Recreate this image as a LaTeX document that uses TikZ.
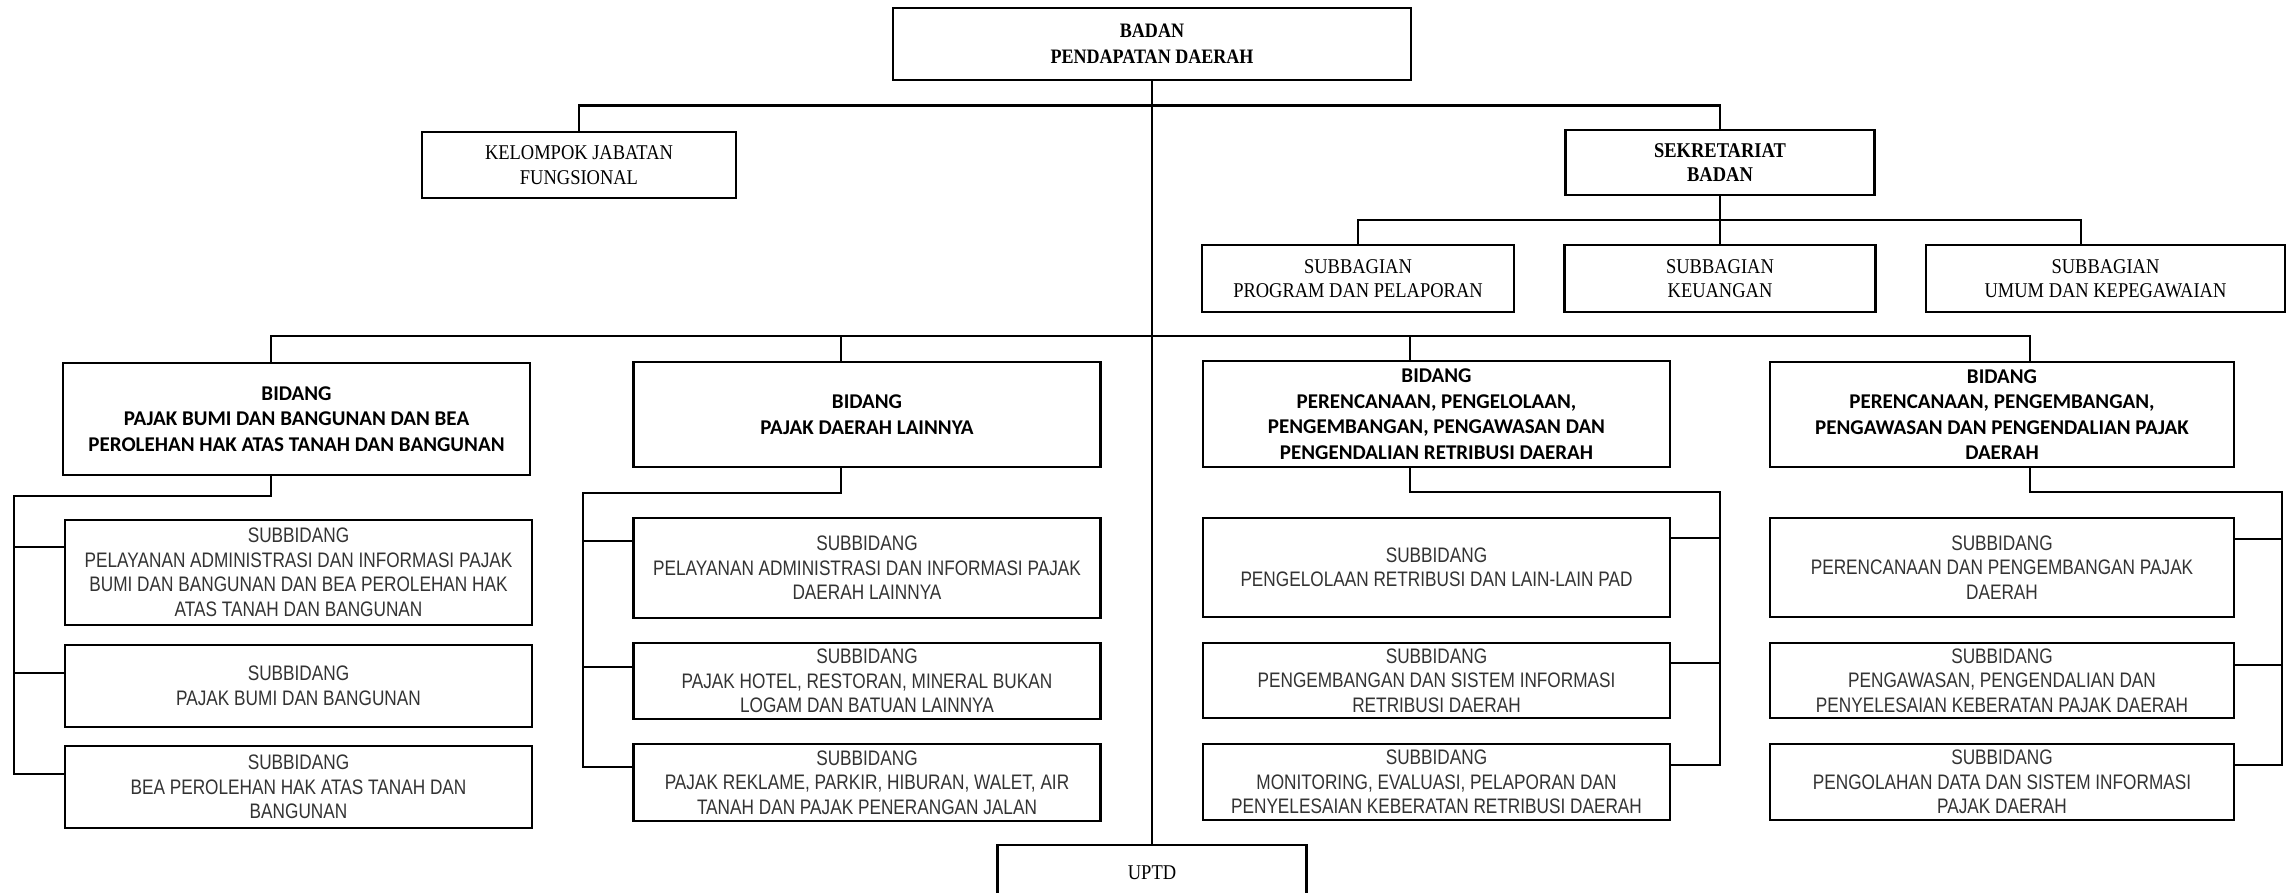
\documentclass[tikz,border=0pt]{standalone}
\usepackage{fontspec}
\setmainfont{Liberation Serif}[FakeStretch=0.88]
\newfontfamily\bidfont{Carlito}
\newfontfamily\subfont{Liberation Sans}[FakeStretch=0.82]
\begin{document}
\begin{tikzpicture}[x=1pt,y=-1pt,
  ln/.style={line width=2.5pt, black},
  serifbox/.style={draw, ln, fill=white, inner sep=0pt, align=center, font=\fontsize{21}{24.5}\selectfont},
  bidbox/.style={draw, ln, fill=white, inner sep=0pt, align=center, font=\bidfont\bfseries\fontsize{21}{25.5}\selectfont},
  subbox/.style={draw, ln, fill=white, inner sep=0pt, align=center, text=black!80, font=\subfont\fontsize{21}{24.5}\selectfont}]
\fill[white] (0,0) rectangle (2287,893);
\useasboundingbox (0,0) rectangle (2287,893);

% top level
\node[serifbox, font=\fontsize{20.5}{25.5}\selectfont\bfseries, minimum width=518pt, minimum height=72pt] (badan) at (1152,44) {BADAN\\PENDAPATAN DAERAH};
\node[serifbox, minimum width=314pt, minimum height=66pt] (kjf) at (579,165) {KELOMPOK JABATAN\\FUNGSIONAL};
\node[serifbox, font=\fontsize{21}{24}\selectfont\bfseries, minimum width=309pt, minimum height=65pt] (sekr) at (1720,162.5) {SEKRETARIAT\\BADAN};
\node[serifbox, minimum width=312pt, minimum height=67pt] (sb1) at (1358,278.5) {SUBBAGIAN\\PROGRAM DAN PELAPORAN};
\node[serifbox, minimum width=311pt, minimum height=67pt] (sb2) at (1720,278.5) {SUBBAGIAN\\KEUANGAN};
\node[serifbox, minimum width=359pt, minimum height=67pt] (sb3) at (2105.5,278.5) {SUBBAGIAN\\UMUM DAN KEPEGAWAIAN};
\node[serifbox, minimum width=309pt, minimum height=56pt] (uptd) at (1152,873) {UPTD};

% bidang
\node[bidbox, minimum width=467pt, minimum height=112pt] (b1) at (296.5,419) {BIDANG\\PAJAK BUMI DAN BANGUNAN DAN BEA\\PEROLEHAN HAK ATAS TANAH DAN BANGUNAN};
\node[bidbox, minimum width=467pt, minimum height=105pt] (b2) at (867,414.5) {BIDANG\\PAJAK DAERAH LAINNYA};
\node[bidbox, minimum width=467pt, minimum height=106pt] (b3) at (1436.5,414) {BIDANG\\PERENCANAAN, PENGELOLAAN,\\PENGEMBANGAN, PENGAWASAN DAN\\PENGENDALIAN RETRIBUSI DAERAH};
\node[bidbox, minimum width=464pt, minimum height=105pt] (b4) at (2002,414.5) {BIDANG\\PERENCANAAN, PENGEMBANGAN,\\PENGAWASAN DAN PENGENDALIAN PAJAK\\DAERAH};

% subbidang column 1
\node[subbox, minimum width=467pt, minimum height=105pt] (s11) at (298.5,572.5) {SUBBIDANG\\PELAYANAN ADMINISTRASI DAN INFORMASI PAJAK\\BUMI DAN BANGUNAN DAN BEA PEROLEHAN HAK\\ATAS TANAH DAN BANGUNAN};
\node[subbox, minimum width=467pt, minimum height=82pt] (s12) at (298.5,686) {SUBBIDANG\\PAJAK BUMI DAN BANGUNAN};
\node[subbox, minimum width=467pt, minimum height=82pt] (s13) at (298.5,787) {SUBBIDANG\\BEA PEROLEHAN HAK ATAS TANAH DAN\\BANGUNAN};
% column 2
\node[subbox, minimum width=467pt, minimum height=100pt] (s21) at (867,568) {SUBBIDANG\\PELAYANAN ADMINISTRASI DAN INFORMASI PAJAK\\DAERAH LAINNYA};
\node[subbox, minimum width=467pt, minimum height=76pt] (s22) at (867,681) {SUBBIDANG\\PAJAK HOTEL, RESTORAN, MINERAL BUKAN\\LOGAM DAN BATUAN LAINNYA};
\node[subbox, minimum width=467pt, minimum height=77pt] (s23) at (867,782.5) {SUBBIDANG\\PAJAK REKLAME, PARKIR, HIBURAN, WALET, AIR\\TANAH DAN PAJAK PENERANGAN JALAN};
% column 3
\node[subbox, minimum width=467pt, minimum height=99pt] (s31) at (1436.5,567.5) {SUBBIDANG\\PENGELOLAAN RETRIBUSI DAN LAIN-LAIN PAD};
\node[subbox, minimum width=467pt, minimum height=75pt] (s32) at (1436.5,680.5) {SUBBIDANG\\PENGEMBANGAN DAN SISTEM INFORMASI\\RETRIBUSI DAERAH};
\node[subbox, minimum width=467pt, minimum height=76pt] (s33) at (1436.5,782) {SUBBIDANG\\MONITORING, EVALUASI, PELAPORAN DAN\\PENYELESAIAN KEBERATAN RETRIBUSI DAERAH};
% column 4
\node[subbox, minimum width=464pt, minimum height=99pt] (s41) at (2002,567.5) {SUBBIDANG\\PERENCANAAN DAN PENGEMBANGAN PAJAK\\DAERAH};
\node[subbox, minimum width=464pt, minimum height=75pt] (s42) at (2002,680.5) {SUBBIDANG\\PENGAWASAN, PENGENDALIAN DAN\\PENYELESAIAN KEBERATAN PAJAK DAERAH};
\node[subbox, minimum width=464pt, minimum height=76pt] (s43) at (2002,782) {SUBBIDANG\\PENGOLAHAN DATA DAN SISTEM INFORMASI\\PAJAK DAERAH};

% bus coordinates
\coordinate (tbus) at (0,105.5);
\coordinate (sbus) at (0,220);
\coordinate (mbus) at (0,336);
\coordinate (k3) at ([xshift=-24.5pt]sb3.north);
\coordinate (bt1) at ([xshift=-25.5pt]b1.north);
\coordinate (bb1) at ([xshift=-25.5pt]b1.south);
\coordinate (bt2) at ([xshift=-26pt]b2.north);
\coordinate (bb2) at ([xshift=-26pt]b2.south);
\coordinate (bt3) at ([xshift=-26.5pt]b3.north);
\coordinate (bb3) at ([xshift=-26.5pt]b3.south);
\coordinate (bt4) at ([xshift=28pt]b4.north);
\coordinate (bb4) at ([xshift=28pt]b4.south);
\coordinate (r1) at (14,496);
\coordinate (r2) at (583,493);
\coordinate (r3) at (1720,492);
\coordinate (r4) at (2282,492);
\coordinate (k11) at ([yshift=25.5pt]s11.west);
\coordinate (k12) at ([yshift=13pt]s12.west);
\coordinate (k13) at ([yshift=13pt]s13.west);
\coordinate (k21) at ([yshift=27pt]s21.west);
\coordinate (k22) at ([yshift=14pt]s22.west);
\coordinate (k23) at ([yshift=15.5pt]s23.west);
\coordinate (k31) at ([yshift=29.5pt]s31.east);
\coordinate (k32) at ([yshift=17.5pt]s32.east);
\coordinate (k33) at ([yshift=17pt]s33.east);
\coordinate (k41) at ([yshift=28.5pt]s41.east);
\coordinate (k42) at ([yshift=15.5pt]s42.east);
\coordinate (k43) at ([yshift=17pt]s43.east);

% connectors
\draw[ln] (badan.south) -- (uptd.north);
\draw[ln] (kjf.north) -- (kjf.north |- tbus) -- (sekr.north |- tbus) -- (sekr.north);
\draw[ln] (sekr.south) -- (sekr.south |- sbus);
\draw[ln] (sb1.north) -- (sb1.north |- sbus) -- (k3 |- sbus) -- (k3);
\draw[ln] (sb2.north) -- (sb2.north |- sbus);
\draw[ln] (bt1) -- (bt1 |- mbus) -- (bt4 |- mbus) -- (bt4);
\draw[ln] (bt2) -- (bt2 |- mbus);
\draw[ln] (bt3) -- (bt3 |- mbus);

\draw[ln] (bb1) -- (bb1 |- r1) -- (r1) -- (r1 |- k13) -- (k13);
\draw[ln] (r1 |- k11) -- (k11);
\draw[ln] (r1 |- k12) -- (k12);
\draw[ln] (bb2) -- (bb2 |- r2) -- (r2) -- (r2 |- k23) -- (k23);
\draw[ln] (r2 |- k21) -- (k21);
\draw[ln] (r2 |- k22) -- (k22);
\draw[ln] (bb3) -- (bb3 |- r3) -- (r3) -- (r3 |- k33) -- (k33);
\draw[ln] (r3 |- k31) -- (k31);
\draw[ln] (r3 |- k32) -- (k32);
\draw[ln] (bb4) -- (bb4 |- r4) -- (r4) -- (r4 |- k43) -- (k43);
\draw[ln] (r4 |- k41) -- (k41);
\draw[ln] (r4 |- k42) -- (k42);
\end{tikzpicture}
\end{document}
